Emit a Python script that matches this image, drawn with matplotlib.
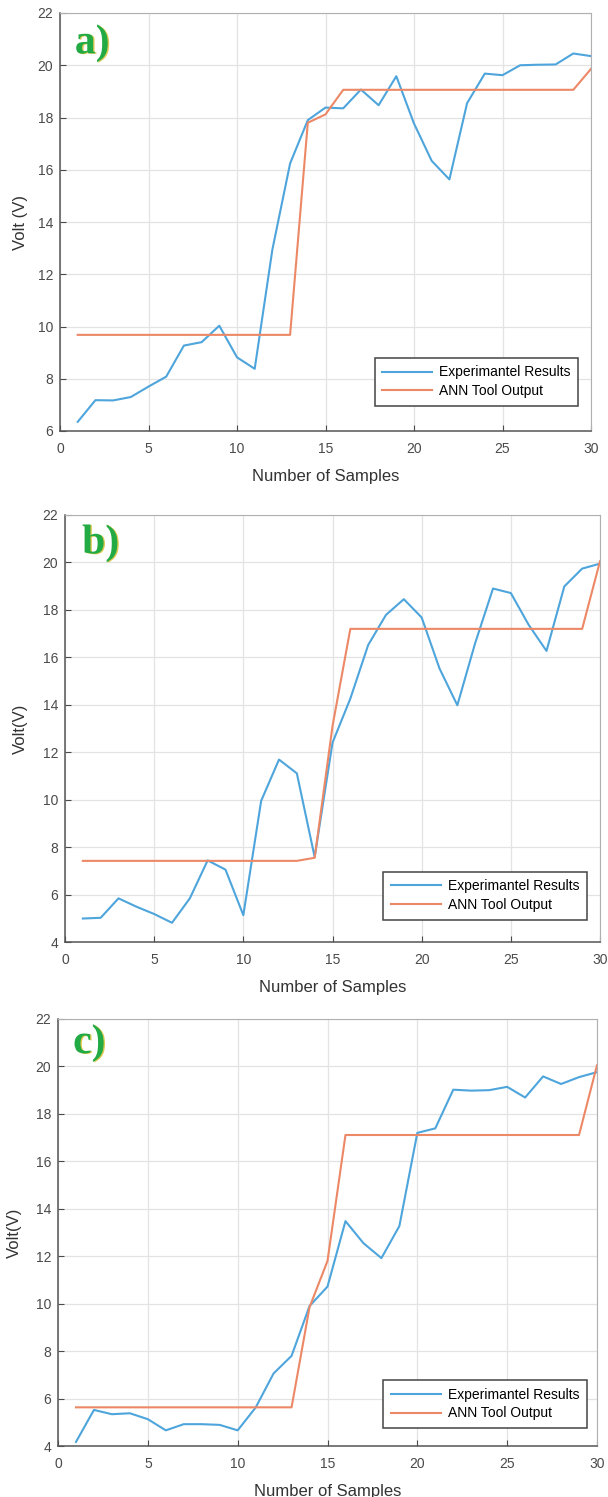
import numpy as np
import matplotlib
matplotlib.use("Agg")
import matplotlib.pyplot as plt
import matplotlib.patheffects as pe

plt.rcParams["font.family"] = ["Liberation Sans", "DejaVu Sans"]

samples = list(range(1, 31))

# panel a
exp_a = [6.35, 7.18, 7.17, 7.30, 7.70, 8.08, 9.27, 9.40, 10.03, 8.82,
         8.38, 12.95, 16.24, 17.90, 18.38, 18.35, 19.07, 18.47, 19.58, 17.77,
         16.34, 15.63, 18.55, 19.68, 19.62, 20.00, 20.02, 20.03, 20.45, 20.35]
ann_a = [9.68, 9.68, 9.68, 9.68, 9.68, 9.68, 9.68, 9.68, 9.68, 9.68,
         9.68, 9.68, 9.68, 17.80, 18.12, 19.06, 19.06, 19.06, 19.06, 19.06,
         19.06, 19.06, 19.06, 19.06, 19.06, 19.06, 19.06, 19.06, 19.06, 19.86]

# panel b
exp_b = [4.99, 5.02, 5.84, 5.49, 5.18, 4.81, 5.84, 7.44, 7.05, 5.13,
         9.95, 11.69, 11.11, 7.58, 12.40, 14.26, 16.52, 17.79, 18.45, 17.68,
         15.53, 13.98, 16.60, 18.90, 18.71, 17.37, 16.27, 18.99, 19.74, 19.95]
ann_b = [7.42, 7.42, 7.42, 7.42, 7.42, 7.42, 7.42, 7.42, 7.42, 7.42,
         7.42, 7.42, 7.42, 7.55, 13.10, 17.20, 17.20, 17.20, 17.20, 17.20,
         17.20, 17.20, 17.20, 17.20, 17.20, 17.20, 17.20, 17.20, 17.20, 20.05]

# panel c
exp_c = [4.17, 5.52, 5.34, 5.38, 5.13, 4.66, 4.92, 4.92, 4.89, 4.66,
         5.62, 7.06, 7.80, 9.90, 10.72, 13.48, 12.55, 11.92, 13.27, 17.20,
         17.39, 19.02, 18.98, 19.00, 19.14, 18.69, 19.58, 19.26, 19.55, 19.76]
ann_c = [5.63, 5.63, 5.63, 5.63, 5.63, 5.63, 5.63, 5.63, 5.63, 5.63,
         5.63, 5.63, 5.63, 9.85, 11.80, 17.11, 17.11, 17.11, 17.11, 17.11,
         17.11, 17.11, 17.11, 17.11, 17.11, 17.11, 17.11, 17.11, 17.11, 20.05]

x_ticks = [0, 5, 10, 15, 20, 25, 30]

W, H = 608, 1497
fig = plt.figure(figsize=(W / 100, H / 100), dpi=100)

# box in pixels (left, right, top, bottom), tag, ylabel, ymin, data,
# tag position, legend anchor, ylabel x (axes fraction)
panels = [
    ((60, 591, 13, 431), "a)", "Volt (V)", 6, exp_a, ann_a,
     (0.028, 0.928), (0.976, 0.06), -0.060),
    ((65, 600, 515, 942), "b)", "Volt(V)", 4, exp_b, ann_b,
     (0.032, 0.934), (0.976, 0.052), -0.069),
    ((58, 597, 1019, 1446), "c)", "Volt(V)", 4, exp_c, ann_c,
     (0.028, 0.944), (0.981, 0.042), -0.067),
]

for (l, r, t, b), tag, ylab, ymin, exp, ann, tagpos, legpos, ylx in panels:
    ax = fig.add_axes([l / W, 1 - b / H, (r - l) / W, (b - t) / H])
    ax.plot(samples, exp, color="#4ea5dc", lw=1.5, label="Experimantel Results")
    ax.plot(samples, ann, color="#ec8866", lw=1.5, label="ANN Tool Output")
    ax.set_xlim(0, 30)
    ax.set_ylim(ymin, 22)
    ax.set_xticks(x_ticks)
    ax.set_yticks(np.arange(ymin, 23, 2))
    ax.grid(True, color="#e3e3e3", lw=0.9)
    ax.set_axisbelow(True)
    ax.tick_params(direction="in", length=4, labelsize=10, colors="#4a4a4a",
                   top=False, right=False)
    ax.tick_params(axis="x", pad=8)
    ax.tick_params(axis="y", pad=5)
    for s in ["left", "bottom"]:
        ax.spines[s].set_color("#555555")
        ax.spines[s].set_linewidth(1.1)
    for s in ["top", "right"]:
        ax.spines[s].set_color("#b0b0b0")
    ax.set_xlabel("Number of Samples", fontsize=12, color="#333333", labelpad=9)
    ax.set_ylabel(ylab, fontsize=12, color="#333333")
    ax.yaxis.set_label_coords(ylx, 0.5)
    leg = ax.legend(loc="lower right", bbox_to_anchor=legpos,
                    fontsize=10, handlelength=3.6, handletextpad=0.5,
                    fancybox=False, framealpha=1, edgecolor="#444444",
                    borderpad=0.55, labelspacing=0.35, borderaxespad=0)
    leg.get_frame().set_linewidth(1.1)
    ax.text(tagpos[0], tagpos[1], tag, transform=ax.transAxes, fontsize=30,
            fontweight="bold", family=["Liberation Serif", "DejaVu Serif"],
            color="#22aa44", ha="left", va="center",
            path_effects=[pe.SimplePatchShadow(offset=(1.0, -0.4),
                                               shadow_rgbFace="#d8c440",
                                               alpha=0.9),
                          pe.Normal()])

fig.savefig("out.png", dpi=100)
